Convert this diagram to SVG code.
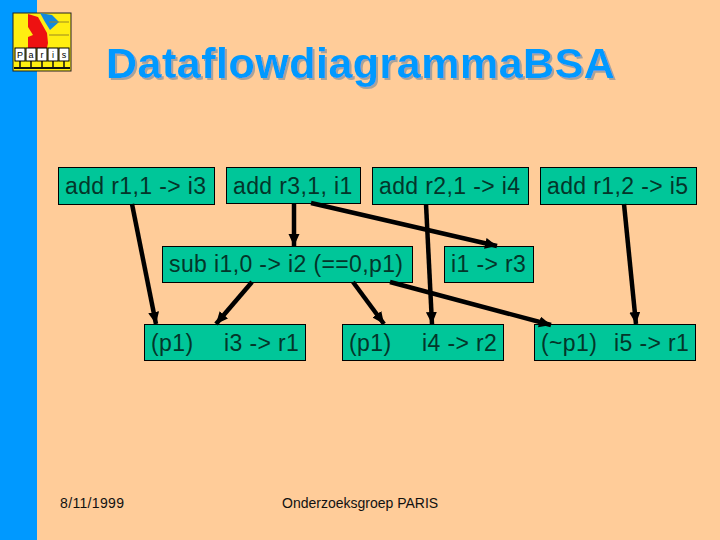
<svg xmlns="http://www.w3.org/2000/svg" width="720" height="540" viewBox="0 0 720 540">
<style>
text{font-family:"Liberation Sans",Arial,sans-serif}
.b{fill:#00c699;stroke:#000;stroke-width:1}
.t{font-size:23px;letter-spacing:.38px;fill:#04352a}
.c{stroke:#000;stroke-width:4.5;fill:none;marker-end:url(#a)}
.f{font-size:14px;fill:#111}
.k{fill:#fff;stroke:#000;stroke-width:1}
.l{font-size:9px;fill:#000;text-anchor:middle}
.h{font-size:43px;font-weight:700;letter-spacing:.5px}
</style>
<defs>
<marker id="a" markerUnits="userSpaceOnUse" markerWidth="14" markerHeight="12" refX="12" refY="5.5" orient="auto"><path d="M0 0L12 5.5L0 11z" fill="#000"/></marker>
<filter id="s" x="-5%" y="-20%" width="110%" height="140%"><feDropShadow dx="2" dy="2" stdDeviation="0.4" flood-color="#a8a29a"/></filter>
</defs>
<rect width="720" height="540" fill="#ffcc99"/>
<rect width="37" height="540" fill="#0099ff"/>
<g id="logo">
<rect x="13" y="13" width="58" height="58" fill="#ffee11" stroke="#222" stroke-width="1"/>
<path d="M28 14L38 17L47 33L48 43L47 48H28V37L33 35L28 27z" fill="#ee1111"/>
<path d="M40 13L52 15L59 22L50 30L45 22z" fill="#1188dd"/>
<path d="M49 22H69M49 35H69" stroke="#998822" stroke-width="1"/>
<path d="M14 68H70" stroke="#111" stroke-width="2"/>
<path d="M20 60V68M31 60V68M42 60V68M53 60V68M64 60V68" stroke="#111" stroke-width="1.5"/>
<rect class="k" x="15" y="48" width="10" height="13"/><rect class="k" x="26" y="48" width="10" height="13"/><rect class="k" x="37" y="48" width="10" height="13"/><rect class="k" x="48" y="48" width="10" height="13"/><rect class="k" x="59" y="48" width="10" height="13"/>
<text class="l" x="20" y="58">P</text><text class="l" x="31" y="58">a</text><text class="l" x="42" y="58">r</text><text class="l" x="53" y="58">i</text><text class="l" x="64" y="58">s</text>
</g>
<g id="title">
<text class="h" x="106" y="78" fill="#0099ff" filter="url(#s)">DataflowdiagrammaBSA</text>
</g>
<g id="n1"><rect class="b" x="58.5" y="167.5" width="156" height="37"/><text class="t" x="65" y="194">add r1,1 -&gt; i3</text></g>
<g id="n2"><rect class="b" x="226.5" y="167.5" width="134" height="36"/><text class="t" x="233" y="194">add r3,1, i1</text></g>
<g id="n3"><rect class="b" x="372.5" y="167.5" width="156" height="37"/><text class="t" x="379" y="194">add r2,1 -&gt; i4</text></g>
<g id="n4"><rect class="b" x="540.5" y="167.5" width="156" height="37"/><text class="t" x="547" y="194">add r1,2 -&gt; i5</text></g>
<g id="n5"><rect class="b" x="162.5" y="246.5" width="250" height="36"/><text class="t" x="169" y="272">sub i1,0 -&gt; i2 (==0,p1)</text></g>
<g id="n6"><rect class="b" x="444.5" y="246.5" width="89" height="36"/><text class="t" x="451" y="272">i1 -&gt; r3</text></g>
<g id="n7"><rect class="b" x="144.5" y="324.5" width="161" height="36"/><text class="t" x="151" y="351">(p1)</text><text class="t" x="224" y="351">i3 -&gt; r1</text></g>
<g id="n8"><rect class="b" x="342.5" y="324.5" width="161" height="36"/><text class="t" x="349" y="351">(p1)</text><text class="t" x="422" y="351">i4 -&gt; r2</text></g>
<g id="n9"><rect class="b" x="534.5" y="324.5" width="161" height="36"/><text class="t" x="541" y="351">(~p1)</text><text class="t" x="614" y="351">i5 -&gt; r1</text></g>
<g id="connectors">
<path class="c" d="M132 204L156 324"/>
<path class="c" d="M294 204V246"/>
<path class="c" d="M311 203L497 246"/>
<path class="c" d="M252 282L216 324"/>
<path class="c" d="M353 282L384 324"/>
<path class="c" d="M426 204L432 324"/>
<path class="c" d="M390 282L551 325"/>
<path class="c" d="M624 204L636 324"/>
</g>
<text class="f" x="60" y="508" style="letter-spacing:.35px">8/11/1999</text>
<text class="f" x="282" y="508">Onderzoeksgroep PARIS</text>
</svg>
